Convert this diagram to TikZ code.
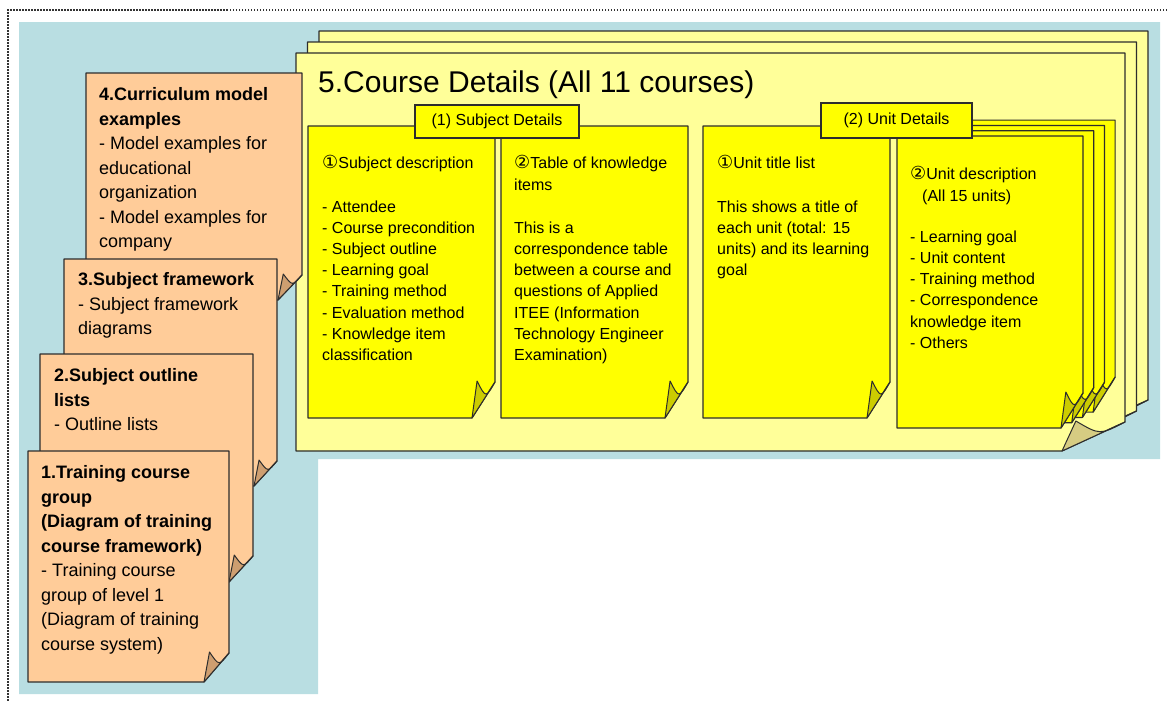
\documentclass[tikz,border=0pt]{standalone}
\usepackage{fontspec}
\setmainfont{Liberation Sans}
\newfontfamily\symfont{DejaVu Sans}
\usepackage{xcolor}
\usepackage{tikz}
\definecolor{bgteal}{RGB}{185,222,226}
\definecolor{sheetyellow}{RGB}{255,255,153}
\definecolor{sheetfold}{RGB}{214,204,130}
\definecolor{boxyellow}{RGB}{255,255,0}
\definecolor{boxfold}{RGB}{204,204,0}
\definecolor{cardorange}{RGB}{255,204,153}
\definecolor{cardfold}{RGB}{206,158,112}
\definecolor{edgegray}{RGB}{45,45,45}
\tikzstyle{framedots} = [line width=2pt, dash pattern=on 1.5pt off 1.5pt, black!80]
\tikzstyle{sheet} = [fill=sheetyellow, draw=edgegray, line width=1.2pt, line join=round]
\tikzstyle{sheetflap} = [fill=sheetfold, draw=edgegray, line width=1pt, line join=round]
\tikzstyle{unitbox} = [fill=boxyellow, draw=edgegray, line width=1.2pt, line join=round]
\tikzstyle{boxflap} = [fill=boxfold, draw=edgegray, line width=1pt, line join=round]
\tikzstyle{card} = [fill=cardorange, draw=edgegray, line width=1.2pt, line join=round]
\tikzstyle{cardflap} = [fill=cardfold, draw=edgegray, line width=1pt, line join=round]
\tikzstyle{tagbox} = [rectangle, draw=edgegray, fill=boxyellow, line width=1.2pt, inner sep=0pt,
                      text centered, font=\fontsize{16}{19}\selectfont]
\tikzstyle{boxtext} = [anchor=north west, inner sep=0pt, align=left, font=\fontsize{16}{21.2}\selectfont]
\tikzstyle{cardtext} = [anchor=north west, inner sep=0pt, align=left, font=\fontsize{18}{24.5}\selectfont]
% page with a curled corner: style, flap style, x1, y1, x2, y2, fold width, fold height
\newcommand{\curlpage}[8]{%
  \draw[#1] ({#3},{#4}) -- ({#5},{#4}) -- ({#5},{#6-(#8)}) -- ({#5-(#7)},{#6}) -- ({#3},{#6}) -- cycle;
  \draw[#2] ({#5-(#7)},{#6}) -- ({#5-0.78*(#7)},{#6-(#8)-1})
    .. controls ({#5-0.4*(#7)},{#6-0.55*(#8)}) .. ({#5},{#6-(#8)}) -- cycle;
}
\newcommand{\circnum}[1]{{\symfont\fontsize{18}{21.2}\selectfont #1}}

\begin{document}
\begin{tikzpicture}[x=1pt, y=-1pt]

\useasboundingbox (0,0) rectangle (1167,702);
\draw[framedots] (1167,10) -- (8,10) -- (8,702);
\fill[bgteal] (19,22) -- (1160,22) -- (1160,459) -- (318,459) -- (318,694) -- (19,694) -- cycle;

% course detail sheets
\foreach \k in {2,1,0}{
  \curlpage{sheet}{sheetflap}{296+11.5*\k}{53-11*\k}{1125+11.5*\k}{451-11*\k}{63}{29}
}

\node (coursetitle) [anchor=base west, inner sep=0pt, font=\fontsize{30}{36}\selectfont]
  at (318,92) {5.Course Details (All 11 courses)};

% subject and unit pages
\curlpage{unitbox}{boxflap}{308}{126}{495}{418}{23}{36}
\curlpage{unitbox}{boxflap}{501}{126}{688}{418}{23}{36}
\curlpage{unitbox}{boxflap}{703}{126}{890}{418}{23}{36}
\foreach \k in {3,2,1,0}{
  \curlpage{unitbox}{boxflap}{897+10.7*\k}{136-5.3*\k}{1083+10.7*\k}{428-5.3*\k}{22}{35}
}

\node (subjtag) [tagbox, minimum width=164pt, minimum height=33pt] at (497,121.5) {(1) Subject Details};
\node (unittag) [tagbox, minimum width=151pt, minimum height=35pt] at (896.5,120.5) {(2) Unit Details};

\node (subjdesc) [boxtext] at (322,153.9) {\strut\circnum{①}Subject description\\[22pt]
  - Attendee\\- Course precondition\\- Subject outline\\- Learning goal\\
  - Training method\\- Evaluation method\\- Knowledge item\\classification};
\node (knowtable) [boxtext] at (514,153.9) {\strut\circnum{②}Table of knowledge\\items\\[22pt]
  This is a\\correspondence table\\between a course and\\questions of Applied\\
  ITEE (Information\\Technology Engineer\\Examination)};
\node (unitlist) [boxtext] at (717,153.9) {\strut\circnum{①}Unit title list\\[22pt]
  This shows a title of\\each unit (total: 15\\units) and its learning\\goal};
\node (unitdesc) [boxtext] at (910,164.9) {\strut\circnum{②}Unit description\\\hspace{12pt}(All 15 units)\\[20pt]
  - Learning goal\\- Unit content\\- Training method\\- Correspondence\\knowledge item\\- Others};

% material cards
\curlpage{card}{cardflap}{86}{73}{302}{300}{24}{25}
\curlpage{card}{cardflap}{64}{259}{277}{486}{23}{25}
\curlpage{card}{cardflap}{40}{354}{253}{582}{24}{26}
\curlpage{card}{cardflap}{28}{451}{229}{682}{25}{29}

\node (modelex) [cardtext] at (99,83.4) {\strut\textbf{4.Curriculum model}\\\textbf{examples}\\
  - Model examples for\\educational\\organization\\- Model examples for\\company};
\node (framework) [cardtext] at (78,268.3) {\strut\textbf{3.Subject framework}\\
  - Subject framework\\diagrams};
\node (outline) [cardtext] at (54,364.3) {\strut\textbf{2.Subject outline}\\\textbf{lists}\\
  - Outline lists};
\node (coursegroup) [cardtext] at (41,461.3) {\strut\textbf{1.Training course}\\\textbf{group}\\
  \textbf{(Diagram of training}\\\textbf{course framework)}\\- Training course\\group of level 1\\
  (Diagram of training\\course system)};

\end{tikzpicture}
\end{document}
